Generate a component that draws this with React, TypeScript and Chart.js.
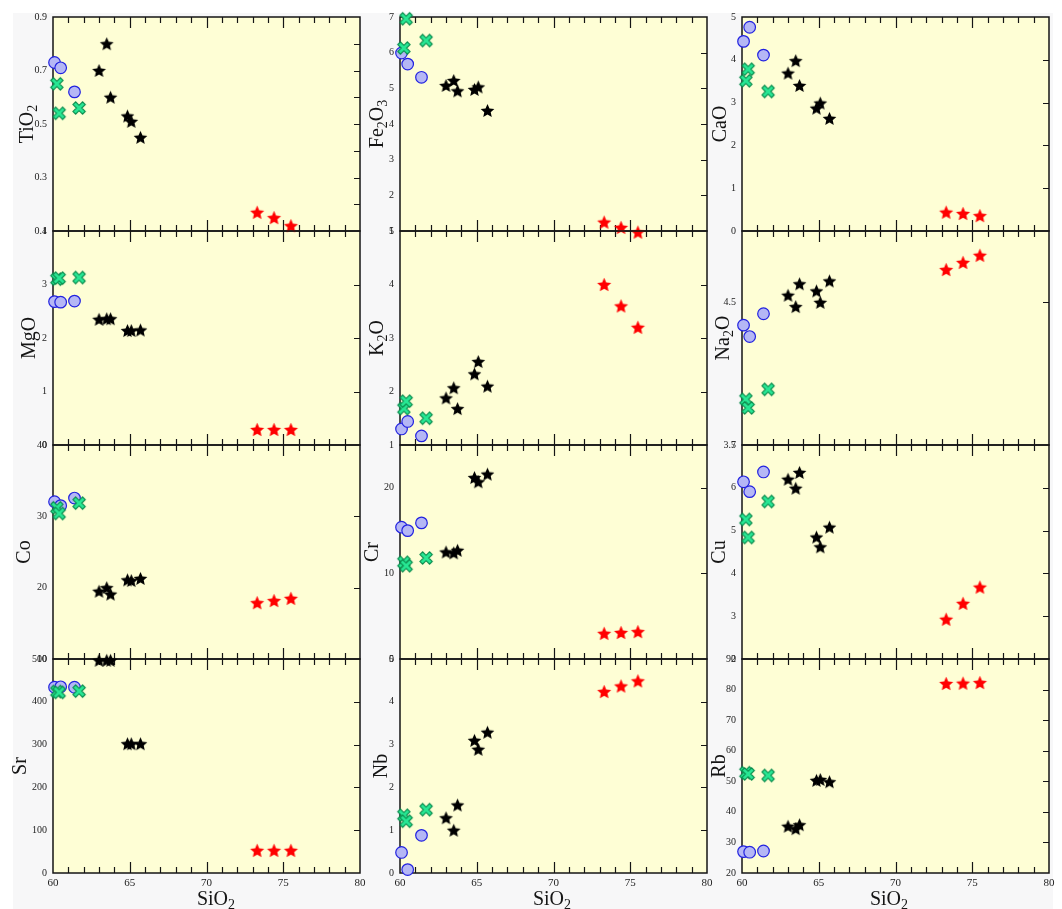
import React, { useEffect, useRef } from "react";
import { Chart, registerables } from "chart.js";

Chart.register(...registerables);

// ---------- DATA ----------
// SiO2 (x) of each sample group
const siO2Blue = [60.1, 60.5, 61.4];
const siO2Green = [60.25, 60.4, 61.7];
const siO2Black = [63.0, 63.5, 63.75, 64.85, 65.1, 65.7];
const siO2Red = [73.3, 74.4, 75.5];

// y values per element: blue circles, green crosses, black stars, red stars
const tiO2 = { blue: [0.73, 0.71, 0.62], green: [0.65, 0.54, 0.56], black: [0.7, 0.8, 0.6, 0.53, 0.51, 0.45], red: [0.17, 0.15, 0.12] };
const fe2O3 = { blue: [5.99, 5.68, 5.31], green: [6.13, 6.95, 6.34], black: [5.08, 5.22, 4.93, 4.97, 5.04, 4.38], red: [1.25, 1.1, 0.97] };
const caO = { blue: [4.43, 4.76, 4.11], green: [3.51, 3.78, 3.26], black: [3.69, 3.98, 3.4, 2.87, 2.99, 2.63], red: [0.44, 0.41, 0.36] };
const mgO = { blue: [2.68, 2.67, 2.69], green: [3.1, 3.12, 3.13], black: [2.35, 2.36, 2.36, 2.14, 2.14, 2.15], red: [0.29, 0.29, 0.29] };
const k2O = { blue: [1.3, 1.44, 1.17], green: [1.68, 1.82, 1.5], black: [1.88, 2.07, 1.68, 2.33, 2.56, 2.1], red: [4.0, 3.6, 3.2] };
const na2O = { blue: [4.34, 4.26, 4.42], green: [3.82, 3.76, 3.89], black: [4.55, 4.47, 4.63, 4.58, 4.5, 4.65], red: [4.73, 4.78, 4.83] };
const co = { blue: [32.05, 31.5, 32.56], green: [31.2, 30.4, 31.86], black: [19.5, 20.0, 19.1, 21.1, 21.0, 21.3], red: [17.9, 18.2, 18.5] };
const cr = { blue: [15.4, 15.0, 15.9], green: [11.3, 10.9, 11.8], black: [12.5, 12.4, 12.7, 21.2, 20.7, 21.6], red: [3.0, 3.1, 3.2] };
const cu = { blue: [6.14, 5.91, 6.37], green: [5.26, 4.84, 5.68], black: [6.2, 5.99, 6.36, 4.85, 4.62, 5.08], red: [2.93, 3.3, 3.68] };
const sr = { blue: [434, 435, 434], green: [424, 422, 425], black: [497, 497, 497, 302, 302, 302], red: [53, 53, 53] };
const nb = { blue: [0.48, 0.08, 0.88], green: [1.35, 1.21, 1.48], black: [1.29, 1.0, 1.59, 3.1, 2.89, 3.29], red: [4.24, 4.37, 4.49] };
const rb = { blue: [27.0, 26.8, 27.2], green: [52.8, 52.4, 51.9], black: [35.3, 34.5, 35.8, 50.3, 50.6, 49.85], red: [82.0, 82.1, 82.3] };

// tick labels
const xTickLabels = [60, 65, 70, 75, 80];
const tiO2Labels = [0.1, 0.3, 0.5, 0.7, 0.9];
const tiO2Marks = [0.2, 0.3, 0.4, 0.5, 0.6, 0.7, 0.8];
const fe2O3Labels = [1, 2, 3, 4, 5, 6, 7];
const caOLabels = [0, 1, 2, 3, 4, 5];
const mgOLabels = [0, 1, 2, 3, 4];
const k2OLabels = [1, 2, 3, 4, 5];
const na2OLabels = [3.5, 4.5];
const coLabels = [10, 20, 30, 40];
const crLabels = [0, 10, 20];
const cuLabels = [2, 3, 4, 5, 6, 7];
const srLabels = [0, 100, 200, 300, 400, 500];
const nbLabels = [0, 1, 2, 3, 4, 5];
const rbLabels = [20, 30, 40, 50, 60, 70, 80, 90];

type Vals = { blue: number[]; green: number[]; black: number[]; red: number[] };
type PanelDef = { title: string; vals: Vals; min: number; max: number; labels: number[]; marks: number[]; titleOff: number };

const panels: PanelDef[] = [
  { title: "TiO_2", vals: tiO2, min: 0.1, max: 0.9, labels: tiO2Labels, marks: tiO2Marks, titleOff: 20 },
  { title: "Fe_2O_3", vals: fe2O3, min: 1, max: 7, labels: fe2O3Labels, marks: fe2O3Labels, titleOff: 16.7 },
  { title: "CaO", vals: caO, min: 0, max: 5, labels: caOLabels, marks: caOLabels, titleOff: 15.6 },
  { title: "MgO", vals: mgO, min: 0, max: 4, labels: mgOLabels, marks: mgOLabels, titleOff: 18 },
  { title: "K_2O", vals: k2O, min: 1, max: 5, labels: k2OLabels, marks: k2OLabels, titleOff: 16.7 },
  { title: "Na_2O", vals: na2O, min: 3.5, max: 5, labels: na2OLabels, marks: na2OLabels, titleOff: 13.3 },
  { title: "Co", vals: co, min: 10, max: 40, labels: coLabels, marks: coLabels, titleOff: 22.6 },
  { title: "Cr", vals: cr, min: 0, max: 25, labels: crLabels, marks: crLabels, titleOff: 21.7 },
  { title: "Cu", vals: cu, min: 2, max: 7, labels: cuLabels, marks: cuLabels, titleOff: 17.3 },
  { title: "Sr", vals: sr, min: 0, max: 500, labels: srLabels, marks: srLabels, titleOff: 26.6 },
  { title: "Nb", vals: nb, min: 0, max: 5, labels: nbLabels, marks: nbLabels, titleOff: 13.3 },
  { title: "Rb", vals: rb, min: 20, max: 90, labels: rbLabels, marks: rbLabels, titleOff: 17.3 },
];

// ---------- LAYOUT / STYLE ----------
const COL_L = [53, 400, 742];
const PW = 307;
const ROW_T0 = 17;
const PH = 214;
const AXW = 52;
const PADT = 14;
const PADR = 14;
const PADB = 14;
const XAXH = 22;
const X_TITLE_OFF = [163, 152, 147];
const YELLOW = "#fefed5";
const INK = "#151515";
const FONT = '"Liberation Serif", "Times New Roman", serif';

function parseRich(text: string) {
  const segs: { t: string; sub: boolean }[] = [];
  for (let i = 0; i < text.length; i++) {
    if (text[i] === "_" && i + 1 < text.length) {
      segs.push({ t: text[i + 1], sub: true });
      i++;
    } else {
      const last = segs[segs.length - 1];
      if (last && !last.sub) last.t += text[i];
      else segs.push({ t: text[i], sub: false });
    }
  }
  return segs;
}

function drawRich(ctx: CanvasRenderingContext2D, text: string, x: number, y: number, size: number) {
  const segs = parseRich(text);
  const main = `${size}px ${FONT}`;
  const sub = `${Math.round(size * 0.68)}px ${FONT}`;
  let total = 0;
  const widths = segs.map((s) => {
    ctx.font = s.sub ? sub : main;
    const w = ctx.measureText(s.t).width;
    total += w;
    return w;
  });
  let cx = x - total / 2;
  ctx.textAlign = "left";
  ctx.textBaseline = "alphabetic";
  segs.forEach((s, i) => {
    ctx.font = s.sub ? sub : main;
    ctx.fillText(s.t, cx, y + (s.sub ? size * 0.2 : 0));
    cx += widths[i];
  });
}

function makeStar(color: string, R: number) {
  const s = Math.ceil(2 * R + 2);
  const c = document.createElement("canvas");
  c.width = s;
  c.height = s;
  const g = c.getContext("2d")!;
  g.translate(s / 2, s / 2 + R * 0.095);
  g.beginPath();
  for (let i = 0; i < 10; i++) {
    const ang = -Math.PI / 2 + (i * Math.PI) / 5;
    const r = i % 2 === 0 ? R : R * 0.47;
    const px = Math.cos(ang) * r;
    const py = Math.sin(ang) * r;
    if (i === 0) g.moveTo(px, py);
    else g.lineTo(px, py);
  }
  g.closePath();
  g.fillStyle = color;
  g.fill();
  return c;
}

function makeX(fill: string, stroke: string) {
  const s = 18;
  const c = document.createElement("canvas");
  c.width = s;
  c.height = s;
  const g = c.getContext("2d")!;
  g.translate(s / 2, s / 2);
  g.rotate(Math.PI / 4);
  const a = 1.9;
  const d = 6.8;
  const pts = [
    [a, -d], [a, -a], [d, -a], [d, a], [a, a], [a, d],
    [-a, d], [-a, a], [-d, a], [-d, -a], [-a, -a], [-a, -d],
  ];
  g.beginPath();
  pts.forEach(([px, py], i) => (i === 0 ? g.moveTo(px, py) : g.lineTo(px, py)));
  g.closePath();
  g.fillStyle = fill;
  g.fill();
  g.lineWidth = 1.1;
  g.strokeStyle = stroke;
  g.stroke();
  return c;
}

function makeDecor(p: PanelDef, row: number, col: number) {
  return {
    id: "decor",
    beforeDatasetsDraw(chart: any) {
      const { ctx, chartArea: a } = chart;
      const xs = chart.scales.x;
      const ys = chart.scales.y;
      ctx.save();
      ctx.strokeStyle = INK;
      ctx.lineWidth = 1.2;
      ctx.beginPath();
      for (let v = 61; v < 80; v++) {
        const px = Math.round(xs.getPixelForValue(v)) + 0.5;
        const len = v % 5 === 0 ? 11 : 6;
        ctx.moveTo(px, a.top);
        ctx.lineTo(px, a.top + len);
        ctx.moveTo(px, a.bottom);
        ctx.lineTo(px, a.bottom - len);
      }
      p.marks.forEach((v) => {
        if (v <= p.min || v >= p.max) return;
        const py = Math.round(ys.getPixelForValue(v)) + 0.5;
        ctx.moveTo(a.right, py);
        ctx.lineTo(a.right - 6, py);
      });
      ctx.stroke();
      ctx.lineWidth = 1.5;
      ctx.strokeRect(a.left, a.top, a.right - a.left, a.bottom - a.top);
      ctx.fillStyle = INK;
      ctx.save();
      ctx.translate(a.left - p.titleOff, (a.top + a.bottom) / 2);
      ctx.rotate(-Math.PI / 2);
      drawRich(ctx, p.title, 0, 0, 20);
      ctx.restore();
      if (row === 3) drawRich(ctx, "SiO_2", a.left + X_TITLE_OFF[col], a.bottom + 32, 20);
      ctx.restore();
    },
  };
}

function pts(xs: number[], ys: number[]) {
  return xs.map((x, i) => ({ x, y: ys[i] }));
}

export default function App() {
  const refs = useRef<(HTMLCanvasElement | null)[]>([]);

  useEffect(() => {
    const blackStar = makeStar("#000000", 7.2);
    const redStar = makeStar("#ff0000", 7.4);
    const greenX = makeX("#27e693", "#0a8a4c");
    const charts: Chart[] = [];
    panels.forEach((p, i) => {
      const canvas = refs.current[i];
      if (!canvas) return;
      const row = Math.floor(i / 3);
      const col = i % 3;
      const isBottom = row === 3;
      const chart = new Chart(canvas, {
        type: "scatter",
        data: {
          datasets: [
            { data: pts(siO2Red, p.vals.red), pointStyle: redStar as any, pointRadius: 7, clip: false as any },
            { data: pts(siO2Black, p.vals.black), pointStyle: blackStar as any, pointRadius: 7, clip: false as any },
            { data: pts(siO2Green, p.vals.green), pointStyle: greenX as any, pointRadius: 7, clip: false as any },
            {
              data: pts(siO2Blue, p.vals.blue),
              pointStyle: "circle",
              pointRadius: 5.8,
              borderWidth: 1.2,
              backgroundColor: "#b5b7f5",
              borderColor: "#2222e0",
              clip: false as any,
            },
          ],
        },
        options: {
          animation: false,
          responsive: false,
          maintainAspectRatio: false,
          devicePixelRatio: 1,
          events: [],
          layout: { padding: { left: 0, top: PADT, right: PADR, bottom: PADB } },
          plugins: { legend: { display: false }, tooltip: { enabled: false } },
          scales: {
            x: {
              type: "linear",
              min: 60,
              max: 80,
              display: isBottom,
              grid: { display: false, drawTicks: false },
              border: { display: false },
              afterBuildTicks: (s: any) => {
                s.ticks = xTickLabels.map((v) => ({ value: v }));
              },
              afterFit: (s: any) => {
                s.height = isBottom ? XAXH : 0;
              },
              ticks: {
                autoSkip: false,
                maxRotation: 0,
                padding: 4,
                color: "#222",
                font: { family: FONT, size: 11 },
                callback: (v: any) => String(v),
              },
            },
            y: {
              type: "linear",
              position: "left",
              min: p.min,
              max: p.max,
              grid: { display: false, drawTicks: false },
              border: { display: false },
              afterBuildTicks: (s: any) => {
                s.ticks = p.labels.map((v) => ({ value: v }));
              },
              afterFit: (s: any) => {
                s.width = AXW;
              },
              ticks: {
                autoSkip: false,
                padding: 6,
                color: "#222",
                font: { family: FONT, size: 10 },
                callback: (v: any) => String(v),
              },
            },
          },
        } as any,
        plugins: [makeDecor(p, row, col) as any],
      });
      charts.push(chart);
    });
    return () => charts.forEach((c) => c.destroy());
  }, []);

  return (
    <div style={{ position: "absolute", left: 0, top: 0, width: 1062, height: 909, overflow: "hidden", background: "#ffffff" }}>
      <div style={{ position: "absolute", left: 13, top: 13, width: 1040, height: 896, background: "#f7f7f8" }} />
      {panels.map((p, i) => {
        const row = Math.floor(i / 3);
        const col = i % 3;
        return (
          <div
            key={"bg" + i}
            style={{ position: "absolute", left: COL_L[col], top: ROW_T0 + row * PH, width: PW, height: PH, background: YELLOW }}
          />
        );
      })}
      {panels.map((p, i) => {
        const row = Math.floor(i / 3);
        const col = i % 3;
        const isBottom = row === 3;
        const w = AXW + PW + PADR;
        const h = PADT + PH + (isBottom ? XAXH : 0) + PADB;
        return (
          <canvas
            key={"c" + i}
            ref={(el) => {
              refs.current[i] = el;
            }}
            width={w}
            height={h}
            style={{ position: "absolute", left: COL_L[col] - AXW, top: ROW_T0 + row * PH - PADT, width: w, height: h }}
          />
        );
      })}
    </div>
  );
}
